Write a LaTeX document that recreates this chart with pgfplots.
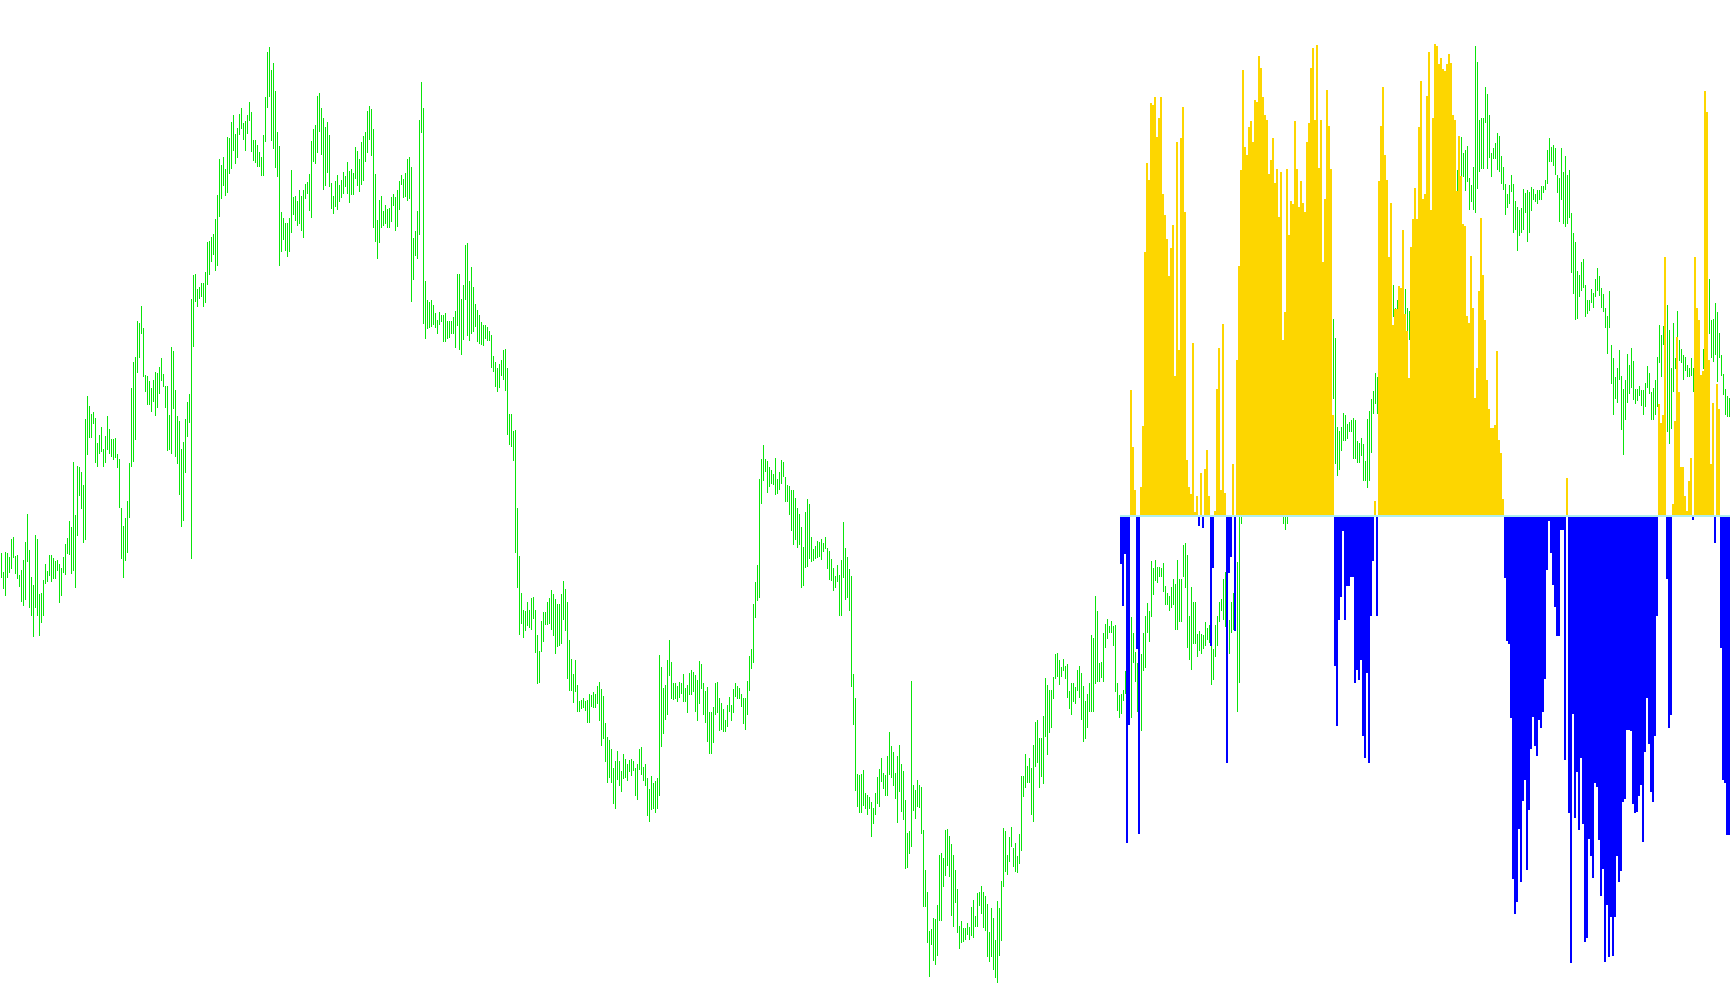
\documentclass[border=0pt]{standalone}
\usepackage{pgfplots}
\usepackage{pgfplotstable}
\pgfplotsset{compat=1.18}
\definecolor{barg}{RGB}{10,228,10}
\definecolor{hy}{RGB}{253,214,0}
\definecolor{hb}{RGB}{0,0,255}
\definecolor{base}{RGB}{175,238,238}
\pgfplotstableread{
i a b
0 553 578
1 572 589
2 552 596
3 553 578
4 557 573
5 539 569
6 537 558
7 556 574
8 555 579
9 575 587
10 570 602
11 560 606
12 542 600
13 514 562
14 550 608
15 577 616
16 585 637
17 535 608
18 539 616
19 594 636
20 593 623
21 580 616
22 564 584
23 571 582
24 555 576
25 555 582
26 558 579
27 561 579
28 560 571
29 564 603
30 568 596
31 557 573
32 544 575
33 538 554
34 521 555
35 527 574
36 462 571
37 515 588
38 466 536
39 467 496
40 472 509
41 485 543
42 419 540
43 396 455
44 406 438
45 414 438
46 412 424
47 418 463
48 443 467
49 435 454
50 427 452
51 449 467
52 436 463
53 416 450
54 429 454
55 439 457
56 439 460
57 438 458
58 454 468
59 459 508
60 508 559
61 526 578
62 518 561
63 501 553
64 463 518
65 388 467
66 362 462
67 357 440
68 321 373
69 323 358
70 306 334
71 328 377
72 375 392
73 376 405
74 381 405
75 388 412
76 380 402
77 372 416
78 373 408
79 367 394
80 358 381
81 374 387
82 386 408
83 386 451
84 415 450
85 347 454
86 351 409
87 390 457
88 416 464
89 421 495
90 449 527
91 442 521
92 419 473
93 402 437
94 394 423
95 299 559
96 275 347
97 274 302
98 289 307
99 287 299
100 283 297
101 283 307
102 272 303
103 242 285
104 241 275
105 237 262
106 234 255
107 219 271
108 195 266
109 159 217
110 165 199
111 157 186
112 169 196
113 137 193
114 138 174
115 122 169
116 115 151
117 134 164
118 128 158
119 114 135
120 108 129
121 123 140
122 121 151
123 115 134
124 102 121
125 112 152
126 140 161
127 140 163
128 145 167
129 152 167
130 157 176
131 135 176
132 97 142
133 52 108
134 47 97
135 70 141
136 63 149
137 91 168
138 132 177
139 146 266
140 212 252
141 218 240
142 223 251
143 223 257
144 218 252
145 170 233
146 197 215
147 196 221
148 201 226
149 190 224
150 196 231
151 190 238
152 184 199
153 182 194
154 174 211
155 141 218
156 129 162
157 125 164
158 96 153
159 93 132
160 108 155
161 118 190
162 127 186
163 122 173
164 135 187
165 183 209
166 196 214
167 181 207
168 175 210
169 185 202
170 180 198
171 172 194
172 176 187
173 162 194
174 171 203
175 169 195
176 173 195
177 147 179
178 151 186
179 159 192
180 142 185
181 136 181
182 132 162
183 111 153
184 106 140
185 109 156
186 129 228
187 174 242
188 220 259
189 200 243
190 196 228
191 211 226
192 205 224
193 209 228
194 208 228
195 197 222
196 194 206
197 197 231
198 190 227
199 181 210
200 175 185
201 179 198
202 173 197
203 159 201
204 157 199
205 167 302
206 238 280
207 231 256
208 211 259
209 120 235
210 82 133
211 108 324
212 281 339
213 300 329
214 302 328
215 300 327
216 305 325
217 313 328
218 320 334
219 312 325
220 315 322
221 315 342
222 313 342
223 321 339
224 321 338
225 321 334
226 317 334
227 311 348
228 274 326
229 274 350
230 299 355
231 285 340
232 245 300
233 243 336
234 281 341
235 267 334
236 287 332
237 304 327
238 310 342
239 315 344
240 322 345
241 325 346
242 325 339
243 327 341
244 331 341
245 335 368
246 356 372
247 362 387
248 368 392
249 364 388
250 360 376
251 350 380
252 349 391
253 368 435
254 414 445
255 414 447
256 431 461
257 430 553
258 508 588
259 556 635
260 593 624
261 610 638
262 611 631
263 602 626
264 610 628
265 598 630
266 597 619
267 610 653
268 635 684
269 651 683
270 621 652
271 612 642
272 612 625
273 602 625
274 598 624
275 590 630
276 594 636
277 599 654
278 604 647
279 604 646
280 594 644
281 581 620
282 589 631
283 602 679
284 640 691
285 659 691
286 674 703
287 660 692
288 685 712
289 701 712
290 700 709
291 698 708
292 701 711
293 700 723
294 694 723
295 695 707
296 692 708
297 694 708
298 686 704
299 682 721
300 689 746
301 696 739
302 723 762
303 737 783
304 740 778
305 749 783
306 768 804
307 761 809
308 751 780
309 761 786
310 771 792
311 754 779
312 759 778
313 764 781
314 760 772
315 759 776
316 761 771
317 768 796
318 764 800
319 749 770
320 747 775
321 767 781
322 764 786
323 778 816
324 789 822
325 776 810
326 783 809
327 781 813
328 778 809
329 655 796
330 667 747
331 688 734
332 685 720
333 660 715
334 640 676
335 662 699
336 683 700
337 683 699
338 686 702
339 682 698
340 683 694
341 674 702
342 688 702
343 685 713
344 673 695
345 670 695
346 672 692
347 675 712
348 680 721
349 661 704
350 664 689
351 683 715
352 691 723
353 687 742
354 712 754
355 712 754
356 707 743
357 683 715
358 682 713
359 698 731
360 703 730
361 709 732
362 720 732
363 705 727
364 697 712
365 705 721
366 689 713
367 683 697
368 686 699
369 688 699
370 694 707
371 698 724
372 698 730
373 681 715
374 656 691
375 649 669
376 604 663
377 582 618
378 565 601
379 479 598
380 459 504
381 445 481
382 459 472
383 461 493
384 467 487
385 470 484
386 474 485
387 458 495
388 479 494
389 472 490
390 460 484
391 462 477
392 477 502
393 485 502
394 486 515
395 490 531
396 490 545
397 498 540
398 508 548
399 514 545
400 527 588
401 547 586
402 512 568
403 499 567
404 504 559
405 537 562
406 549 561
407 546 559
408 541 558
409 542 557
410 539 560
411 543 552
412 537 549
413 548 569
414 551 580
415 559 581
416 568 591
417 576 588
418 565 582
419 575 616
420 560 616
421 522 578
422 548 600
423 557 598
424 569 611
425 576 687
426 674 725
427 698 791
428 774 807
429 775 813
430 774 813
431 770 806
432 793 809
433 795 815
434 797 809
435 802 837
436 808 824
437 793 815
438 777 804
439 769 807
440 758 782
441 773 789
442 775 796
443 756 796
444 732 775
445 746 778
446 752 786
447 773 799
448 756 823
449 745 792
450 764 812
451 771 820
452 800 869
453 833 868
454 831 854
455 681 847
456 785 811
457 790 819
458 780 807
459 785 808
460 787 834
461 830 907
462 870 907
463 892 943
464 931 977
465 929 945
466 918 961
467 919 965
468 905 956
469 855 921
470 853 921
471 858 887
472 830 876
473 829 866
474 836 877
475 844 916
476 855 927
477 870 903
478 889 933
479 926 949
480 921 943
481 928 942
482 928 940
483 923 935
484 927 940
485 907 936
486 900 938
487 916 927
488 893 927
489 892 906
490 886 914
491 892 928
492 896 931
493 904 957
494 932 962
495 908 957
496 918 970
497 940 978
498 901 983
499 908 956
500 881 941
501 828 887
502 831 872
503 855 875
504 837 862
505 827 847
506 848 867
507 843 872
508 856 873
509 834 864
510 776 851
511 776 797
512 754 788
513 766 783
514 758 783
515 768 815
516 745 822
517 722 767
518 720 763
519 738 788
520 738 777
521 716 784
522 678 737
523 685 755
524 690 733
525 690 728
526 677 699
527 654 679
528 653 677
529 660 685
530 667 677
531 659 671
532 666 679
533 664 698
534 691 709
535 683 715
536 683 702
537 687 704
538 670 691
539 666 698
540 673 720
541 686 742
542 701 739
543 694 728
544 683 712
545 635 712
546 638 712
547 596 684
548 611 682
549 663 682
550 662 678
551 633 682
552 624 648
553 619 639
554 626 633
555 621 633
556 626 646
557 625 692
558 683 711
559 695 718
560 694 714
561 690 701
562 671 694
563 670 710
564 650 700
565 617 718
566 633 663
567 652 682
568 663 712
569 660 720
570 654 731
571 633 671
572 616 668
573 603 633
574 611 642
575 561 617
576 568 595
577 560 581
578 567 583
579 567 577
580 568 577
581 563 592
582 586 605
583 593 605
584 596 611
585 587 608
586 579 605
587 584 630
588 560 630
589 579 622
590 579 622
591 545 577
592 543 588
593 555 648
594 616 660
595 587 670
596 602 644
597 602 644
598 634 657
599 631 651
600 634 654
601 635 649
602 622 646
603 628 640
604 625 643
605 646 685
606 649 680
607 625 657
608 616 646
609 602 622
610 599 611
611 579 620
612 572 627
613 600 650
614 620 654
615 602 633
616 593 630
617 590 628
618 562 712
619 517 683
620 440 524
621 430 505
622 420 490
623 430 500
624 410 480
625 420 470
626 400 460
627 390 450
628 400 455
629 380 440
630 385 450
631 395 460
632 410 470
633 420 480
634 430 495
635 440 500
636 430 490
637 445 505
638 440 500
639 450 510
640 455 512
641 460 524
642 470 530
643 465 524
644 450 510
645 440 500
646 430 495
647 420 480
648 410 470
649 400 460
650 390 450
651 395 455
652 385 445
653 380 440
654 370 430
655 360 420
656 365 425
657 370 420
658 360 410
659 350 400
660 340 395
661 330 390
662 335 385
663 330 380
664 320 375
665 325 390
666 319 399
667 338 464
668 427 476
669 431 470
670 427 451
671 413 441
672 415 441
673 424 439
674 422 432
675 420 432
676 418 459
677 420 459
678 441 463
679 443 463
680 438 456
681 444 481
682 461 481
683 419 488
684 411 481
685 399 453
686 391 414
687 373 404
688 377 414
689 380 415
690 370 410
691 365 400
692 355 395
693 350 385
694 340 380
695 320 370
696 285 317
697 308 325
698 300 315
699 295 320
700 295 325
701 280 320
702 289 320
703 308 335
704 311 340
705 317 345
706 280 330
707 260 310
708 250 300
709 240 290
710 235 285
711 240 295
712 230 280
713 220 270
714 215 265
715 220 275
716 192 230
717 195 240
718 190 235
719 185 230
720 192 210
721 180 225
722 175 220
723 170 215
724 165 210
725 160 205
726 160 200
727 165 200
728 170 205
729 158 173
730 137 176
731 153 177
732 150 191
733 146 182
734 178 210
735 185 202
736 167 210
737 46 213
738 62 189
739 120 172
740 118 169
741 118 169
742 87 123
743 94 169
744 115 158
745 153 177
746 148 159
747 143 159
748 133 170
749 136 172
750 156 184
751 167 190
752 184 215
753 194 208
754 185 204
755 175 192
756 184 233
757 201 230
758 207 251
759 210 236
760 208 233
761 189 230
762 193 213
763 190 242
764 192 233
765 187 211
766 189 200
767 194 202
768 190 204
769 190 200
770 186 200
771 186 193
772 180 190
773 150 184
774 138 162
775 147 162
776 145 166
777 148 175
778 175 193
779 178 222
780 148 200
781 172 224
782 156 227
783 175 224
784 170 218
785 213 273
786 233 294
787 242 320
788 271 319
789 275 297
790 262 291
791 259 288
792 285 317
793 300 314
794 300 311
795 289 303
796 293 308
797 279 297
798 268 291
799 276 296
800 288 308
801 294 312
802 308 328
803 316 354
804 291 328
805 345 384
806 358 415
807 377 399
808 368 403
809 350 380
810 376 430
811 389 455
812 380 420
813 354 403
814 365 394
815 348 388
816 361 400
817 389 404
818 389 401
819 386 396
820 390 406
821 390 415
822 383 407
823 366 388
824 373 394
825 392 420
826 388 420
827 380 415
828 357 407
829 325 363
830 335 377
831 326 345
832 300 360
833 305 432
834 330 444
835 368 429
836 323 392
837 358 369
838 311 355
839 340 361
840 349 363
841 355 380
842 357 371
843 365 377
844 368 377
845 358 376
846 368 392
847 330 370
848 335 372
849 340 372
850 378 400
851 349 369
852 344 358
853 310 350
854 279 334
855 320 358
856 319 362
857 303 355
858 312 382
859 333 358
860 355 376
861 374 395
862 389 415
863 396 417
864 398 417
}\bars
\pgfplotstableread{
i v
565 390
566 447
567 490
570 487
571 426
572 252
573 163
574 180
575 103
576 105
577 97
578 137
579 118
580 97
581 194
582 215
583 239
584 276
585 248
586 225
587 376
588 142
589 350
590 138
591 107
592 212
593 460
594 487
595 494
596 343
597 512
598 496
600 473
602 469
603 450
604 496
607 511
608 389
609 348
610 490
611 324
612 493
616 464
618 360
619 266
620 170
621 70
622 147
623 155
624 127
625 121
626 142
627 100
628 102
629 56
630 68
631 97
632 115
633 120
634 174
635 160
636 138
637 183
638 169
639 217
640 172
641 340
642 312
643 169
644 235
645 201
646 204
647 121
648 169
649 207
650 181
651 203
652 212
653 142
654 123
655 68
656 48
657 120
658 45
659 168
660 120
661 262
662 199
663 90
664 126
665 169
666 415
687 501
689 181
690 126
691 87
692 155
693 180
694 257
695 203
696 325
697 309
698 309
699 286
700 288
701 230
702 314
703 331
704 378
705 247
706 219
707 188
708 219
709 127
710 81
711 199
712 194
713 96
714 52
715 210
716 118
717 44
718 46
719 64
720 58
721 69
722 71
723 64
724 54
725 63
726 115
727 120
728 191
729 136
730 176
731 224
732 226
733 316
734 323
735 256
736 308
737 398
738 368
739 291
740 218
741 275
742 320
743 380
744 409
745 428
746 428
747 425
748 351
749 440
750 453
751 499
783 478
829 404
830 423
831 415
832 257
836 504
837 421
838 337
839 392
840 467
841 467
842 496
843 511
844 481
845 458
847 257
848 308
849 320
850 375
851 371
852 91
853 112
854 360
855 464
856 403
858 384
859 409
}\yel
\pgfplotstableread{
i v
560 564
561 606
562 554
563 843
564 725
568 649
569 834
599 526
601 528
605 646
606 568
613 763
614 573
615 557
617 631
667 666
668 726
669 620
670 597
671 531
672 620
673 586
674 586
675 577
676 577
677 683
678 670
679 680
680 660
681 736
682 758
683 673
684 763
685 616
686 561
688 616
752 578
753 641
754 644
755 718
756 879
757 914
758 902
759 829
760 882
761 801
762 780
763 870
764 810
765 749
766 717
767 746
768 756
769 720
770 728
771 712
772 679
773 570
774 521
775 553
776 585
777 607
778 636
779 636
780 530
781 530
782 760
784 813
785 963
786 714
787 818
788 772
789 830
790 758
791 824
792 942
793 938
794 839
795 856
796 878
797 783
798 787
799 840
800 896
801 869
802 962
803 905
804 957
805 917
806 956
807 917
808 856
809 882
810 871
811 802
812 799
813 730
814 730
815 731
816 804
817 813
818 812
819 796
820 785
821 842
822 752
823 698
824 744
825 792
826 802
827 736
828 616
833 579
834 728
835 715
846 520
857 543
860 648
861 780
862 783
863 835
864 835
}\blu
\begin{document}
\begin{tikzpicture}
\begin{axis}[
  width=1730pt, height=1005pt, scale only axis,
  xmin=0, xmax=1730, ymin=0, ymax=1005, y dir=reverse,
  hide axis, clip=true]
\addplot[draw=none, mark=none,
  error bars/.cd, y dir=both, y explicit, error mark=none,
  error bar style={draw=barg, line width=1.1pt}]
  table[x expr=2*\thisrow{i}+1.5, y expr={(\thisrow{a}+\thisrow{b})/2},
        y error expr={(\thisrow{b}-\thisrow{a})/2}] {\bars};
\addplot[draw=none, mark=none,
  error bars/.cd, y dir=both, y explicit, error mark=none,
  error bar style={draw=hy, line width=2pt}]
  table[x expr=2*\thisrow{i}+1, y expr={(516+\thisrow{v})/2},
        y error expr={abs(516-\thisrow{v})/2}] {\yel};
\addplot[draw=none, mark=none,
  error bars/.cd, y dir=both, y explicit, error mark=none,
  error bar style={draw=hb, line width=2pt}]
  table[x expr=2*\thisrow{i}+1, y expr={(516+\thisrow{v})/2},
        y error expr={abs(516-\thisrow{v})/2}] {\blu};
\addplot[base, line width=2pt, mark=none] coordinates {(1120,516) (1730,516)};
\end{axis}
\path (current axis.south west) rectangle (current axis.north east);
\end{tikzpicture}
\end{document}
